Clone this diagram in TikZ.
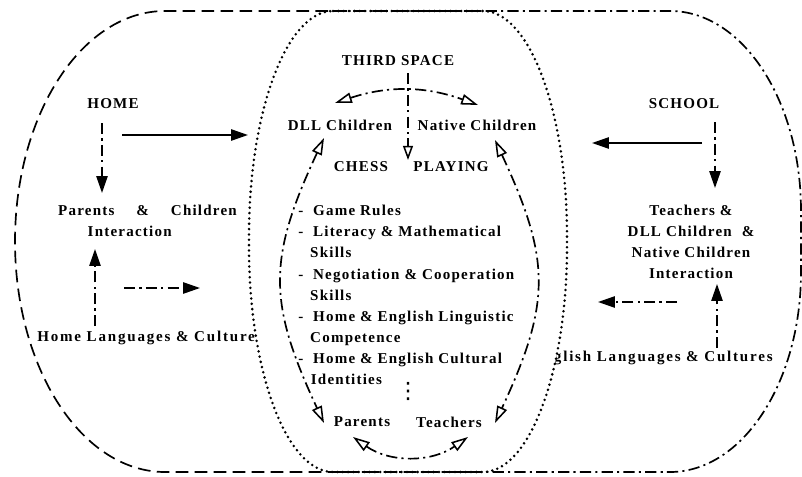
\documentclass[tikz,border=0pt]{standalone}
\usepackage{fontspec}
\setmainfont[LetterSpace=8]{Liberation Serif}
\newfontfamily\dotsfont{DejaVu Sans}
\usepackage{tikz}
\usetikzlibrary{arrows.meta}

\begin{document}
\begin{tikzpicture}[x=0.025cm,y=0.025cm,>={Triangle[length=12pt,width=8pt]},
 txt/.style={font=\bfseries\fontsize{10.7}{15}\selectfont,inner sep=0pt},
 widetxt/.style={txt,font=\bfseries\fontsize{10.7}{15}\selectfont\addfontfeature{LetterSpace=12}},
 dashln/.style={line width=1.2pt,dash pattern=on 9pt off 4.5pt},
 dotln/.style={line width=2pt,line cap=round,dash pattern=on 0pt off 3.8pt},
 dd/.style={line width=1.2pt,dash pattern=on 8pt off 3pt on 1.5pt off 3pt},
 cyc/.style={dd,>={Triangle[open,length=12pt,width=7.5pt,line width=1.1pt]},<->}]
\useasboundingbox (0,0) rectangle (802,476);
\node[widetxt,anchor=west] (homelang) at (37,138) {Home Languages \& Cultures};
\node[widetxt,anchor=east] (englang) at (773,118) {English Languages \& Cultures};
\draw[dotln,fill=white] (333,465) -- (483,465)
  arc[start angle=90,end angle=0,x radius=84,y radius=225] -- (567,229)
  arc[start angle=0,end angle=-90,x radius=84,y radius=225] -- (333,4)
  arc[start angle=270,end angle=180,x radius=84,y radius=225] -- (249,240)
  arc[start angle=180,end angle=90,x radius=84,y radius=225] -- cycle;
\draw[dashln] (480,465) -- (165,465)
  arc[start angle=90,end angle=270,x radius=150,y radius=230.5] -- (480,4);
\draw[dd] (333,465) -- (670,465)
  arc[start angle=90,end angle=0,x radius=131,y radius=200] -- (801,204)
  arc[start angle=0,end angle=-90,x radius=131,y radius=200] -- (333,4);
\node[txt] (third) at (398,415) {THIRD SPACE};
\node[txt] (dll) at (340,351) {DLL Children};
\node[txt] (native) at (477,351) {Native Children};
\node[txt] (chess) at (361,309) {CHESS};
\node[txt] (playing) at (451,309) {PLAYING};
\node[txt,anchor=north west,align=left] (skills) at (298,271) {-\hspace{7pt}Game Rules\\
-\hspace{7pt}Literacy \& Mathematical\\
\hspace*{8.5pt}Skills\\
-\hspace{7pt}Negotiation \& Cooperation\\
\hspace*{8.5pt}Skills\\
-\hspace{7pt}Home \& English Linguistic\\
\hspace*{8.5pt}Competence\\
-\hspace{7pt}Home \& English Cultural\\
\hspace*{9pt}Identities};
\node[inner sep=0pt,font=\dotsfont\fontsize{16}{16}\selectfont] (dots) at (408,85) {⋮};
\node[txt] (parents) at (362,54) {Parents};
\node[txt] (teachers) at (449,54) {Teachers};
\node[txt] (home) at (113,372) {HOME};
\node[txt,align=left] (pc) at (147.5,255.5) {\makebox[127pt][s]{Parents \& Children}\\\hspace*{21pt}Interaction};
\node[txt] (school) at (684,372) {SCHOOL};
\node[txt,align=center] (tdn) at (691,234) {Teachers \&\\DLL Children \ \&\\Native Children\\Interaction};
\coordinate (homeend) at (248,341);
\coordinate (homeout) at (200,188);
\coordinate (schoolend) at (592,333);
\coordinate (schoolout) at (598,174);
\draw[cyc] ([shift={(-5,22)}]dll.center) to[bend left=19] ([shift={(1,20)}]native.center);
\draw[cyc] ([shift={(-16,-13)}]dll.center) to[out=245,in=115,looseness=1.2] ([shift={(-38,-1)}]parents.center);
\draw[cyc] ([shift={(18,-15)}]native.center) to[out=-65,in=65,looseness=1.2] ([shift={(46,-1)}]teachers.center);
\draw[cyc] ([shift={(-9,-15)}]parents.center) to[bend right=35] ([shift={(19,-15)}]teachers.center);
\draw[dd,->,>={Triangle[open,length=10pt,width=7pt,line width=1.1pt]}] ([shift={(10,-12)}]third.center) -- ([shift={(-43,7)}]playing.center);
\draw[dd,->] ([shift={(-11,-19)}]home.center) -- ([shift={(-45.5,27.5)}]pc.center);
\draw[line width=1.2pt,->] ([shift={(9,-31)}]home.center) -- (homeend);
\draw[dd,->] ([shift={(58,12)}]homelang.west) -- ([shift={(-52.5,-28.5)}]pc.center);
\draw[dd,->] ([shift={(87,50)}]homelang.west) -- (homeout);
\draw[line width=1.2pt,->] ([shift={(18,-39)}]school.center) -- (schoolend);
\draw[dd,->] ([shift={(31,-18)}]school.center) -- ([shift={(24,54)}]tdn.center);
\draw[dd,->] ([shift={(-56,10)}]englang.east) -- ([shift={(26,-42)}]tdn.center);
\draw[dd,->] ([shift={(-96,56)}]englang.east) -- (schoolout);
\end{tikzpicture}
\end{document}
